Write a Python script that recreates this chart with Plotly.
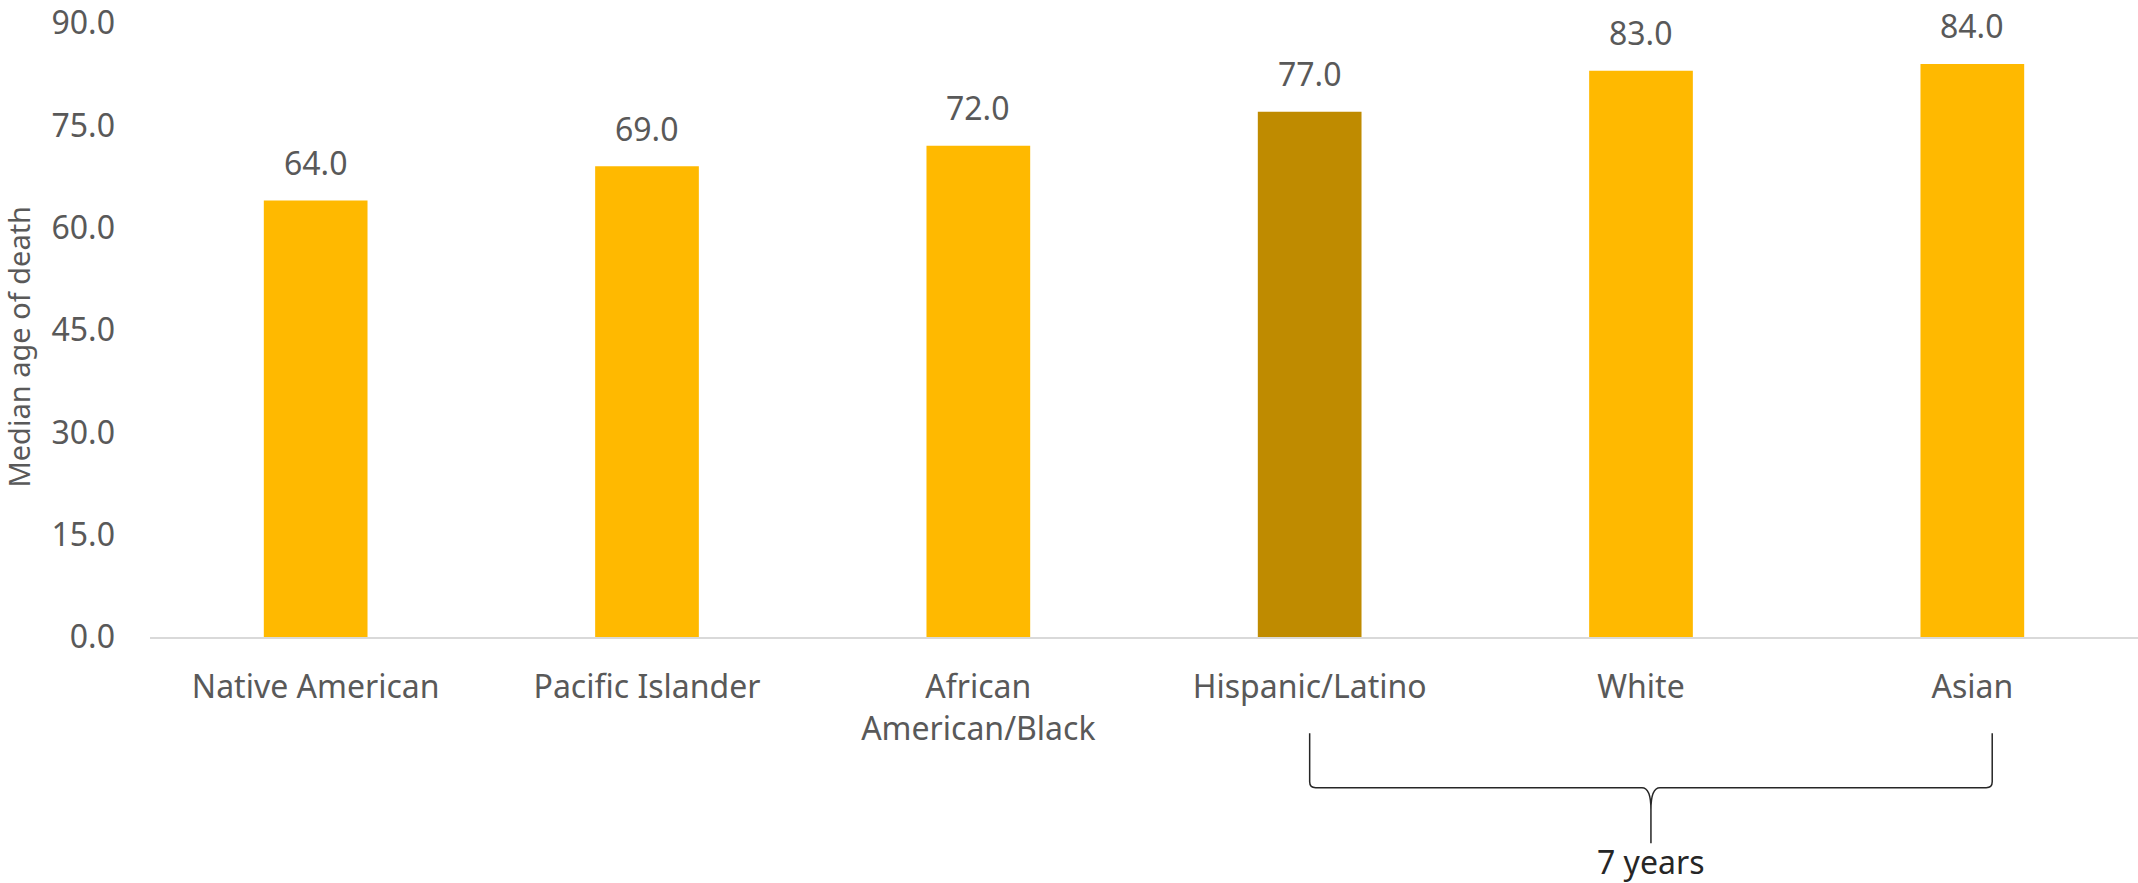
import plotly.graph_objects as go

categories = ["Native American", "Pacific Islander", "African<br>American/Black",
              "Hispanic/Latino", "White", "Asian"]
values = [64.0, 69.0, 72.0, 77.0, 83.0, 84.0]
highlight = "Hispanic/Latino"
y_ticks = [0, 15, 30, 45, 60, 75, 90]
y_title = "Median age of death"
bracket_label = "7 years"
bracket_from = "Hispanic/Latino"
bracket_to = "Asian"

BAR = "#FFB900"
BAR_HI = "#BF8B00"
TXT = "#595959"
FONT = "Noto Sans"

W, H = 2138, 883
ML, MR, MT, MB = 150, 0, 18, 246
PW, PH = W - ML - MR, H - MT - MB

colors = [BAR_HI if c == highlight else BAR for c in categories]

fig = go.Figure(go.Bar(
    x=categories, y=values, marker=dict(color=colors, line=dict(width=0)),
    hoverinfo="skip",
))

# data labels
for c, v in zip(categories, values):
    fig.add_annotation(x=c, y=v, text=f"{v:.1f}", showarrow=False,
                       xref="x", yref="y", yanchor="middle", yshift=38,
                       font=dict(family=FONT, size=32, color=TXT))

# y-axis title
fig.add_annotation(text=y_title, xref="paper", yref="paper", x=0, y=0.473,
                   xshift=-131, xanchor="center", yanchor="middle",
                   textangle=-90, showarrow=False,
                   font=dict(family=FONT, size=29, color=TXT))

# bracket (curly brace) below the axis
n = len(categories)
def px_x(idx):
    return (idx + 0.5) / n
def py(pix):
    return (MT + PH - pix) / PH

i0 = categories.index(bracket_from)
i1 = categories.index(bracket_to) + 0.06
im = (i0 + i1) / 2
L, R, M = px_x(i0), px_x(i1), px_x(im)
top, hz, tip = py(734), py(789), py(845)
rx, ry = 6 / PW, 6 / PH
mw, mh = 9 / PW, 22 / PH
path = (f"M {L},{top} L {L},{hz + ry} Q {L},{hz} {L + rx},{hz} "
        f"L {M - mw},{hz} Q {M},{hz} {M},{hz - mh} L {M},{tip} "
        f"M {M},{hz - mh} Q {M},{hz} {M + mw},{hz} "
        f"L {R - rx},{hz} Q {R},{hz} {R},{hz + ry} L {R},{top}")
fig.add_shape(type="path", path=path, xref="paper", yref="paper",
              line=dict(color="#262626", width=1.5))
fig.add_annotation(text=bracket_label, xref="paper", yref="paper",
                   x=M, y=py(863), xanchor="center", yanchor="middle",
                   showarrow=False, font=dict(family=FONT, size=32, color="#262626"))

fig.update_layout(
    width=W, height=H,
    margin=dict(l=ML, r=MR, t=MT, b=MB, pad=0),
    paper_bgcolor="white", plot_bgcolor="white",
    showlegend=False, bargap=0.687,
    font=dict(family=FONT, size=32, color=TXT),
)
fig.update_xaxes(
    showline=True, linecolor="#D9D9D9", linewidth=2, showgrid=False,
    ticks="", ticklabelstandoff=21,
    tickfont=dict(family=FONT, size=32, color=TXT),
    fixedrange=True,
)
fig.update_yaxes(
    range=[0, 90], tickvals=y_ticks, tickformat=".1f",
    showgrid=False, zeroline=False, showline=False, ticks="",
    ticklabelstandoff=34, ticklabeloverflow="allow",
    tickfont=dict(family=FONT, size=32, color=TXT), fixedrange=True,
)

fig.write_html(
    "out.html",
    config={"displayModeBar": False},
    post_script="document.body.style.margin='0';document.body.style.overflow='hidden';",
)
